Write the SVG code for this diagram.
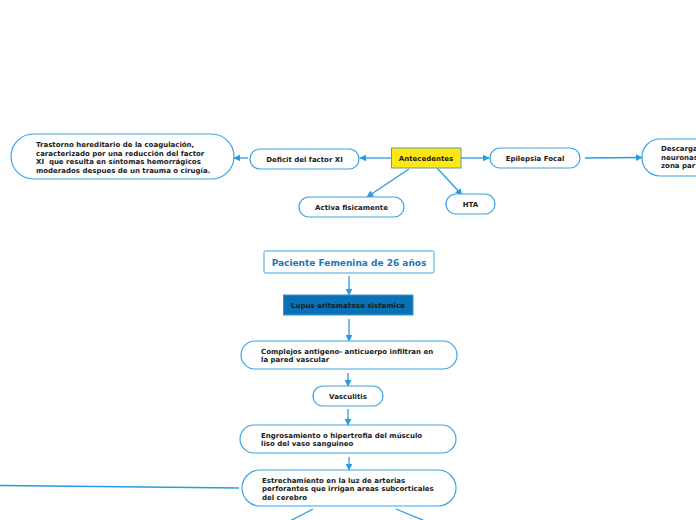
<svg xmlns="http://www.w3.org/2000/svg" width="696" height="520" viewBox="0 0 696 520">
<defs>
<style>
.n{fill:#fff;stroke:#3aa3e6;stroke-width:1.2}
.t{font-family:"DejaVu Sans",Verdana,sans-serif;font-weight:bold;font-size:7px;fill:#1a1a1a}
.c{text-anchor:middle}
.e{stroke:#2b9be0;stroke-width:1.3;fill:none;marker-end:url(#ah)}
.l{stroke:#2b9be0;stroke-width:1.3;fill:none}
</style>
<marker id="ah" viewBox="0 0 10 10" refX="9" refY="5" markerWidth="7" markerHeight="7" markerUnits="userSpaceOnUse" orient="auto">
<path d="M0,0 L10,5 L0,10 z" fill="#2b9be0"/>
</marker>
</defs>
<rect width="696" height="520" fill="#fff"/>
<g id="connectors">
<line class="e" x1="391" y1="158" x2="360" y2="158"/>
<line class="e" x1="248" y1="158" x2="234" y2="158"/>
<line class="e" x1="461" y1="158" x2="489" y2="158"/>
<line class="e" x1="585" y1="158" x2="642" y2="157.5"/>
<line class="e" x1="409" y1="169" x2="367" y2="197"/>
<line class="e" x1="437" y1="168" x2="462" y2="195"/>
<line class="e" x1="349" y1="276" x2="349" y2="295"/>
<line class="e" x1="349" y1="319" x2="349" y2="341"/>
<line class="e" x1="348" y1="373" x2="348" y2="386"/>
<line class="e" x1="348" y1="409" x2="348" y2="425"/>
<line class="e" x1="349" y1="457" x2="349" y2="470"/>
<line class="l" x1="0" y1="485.5" x2="239" y2="488"/>
<line class="l" x1="313" y1="509" x2="290" y2="521"/>
<line class="l" x1="396" y1="509" x2="425" y2="521"/>
</g>
<g id="antecedentes">
<rect x="391.5" y="148" width="69.5" height="20" fill="#ffe614" stroke="#5f9ea0" stroke-width="1"/>
<text class="t c" x="426" y="161">Antecedentes</text>
</g>
<g id="deficit">
<rect class="n" x="250" y="149" width="109" height="20" rx="10"/>
<text class="t c" x="304.5" y="162">Deficit del factor XI</text>
</g>
<g id="trastorno">
<rect class="n" x="11" y="134" width="223" height="45" rx="22.5"/>
<text class="t" x="36" y="147">Trastorno hereditario de la coagulación,</text>
<text class="t" x="36" y="155.5">caracterizado por una reducción del factor</text>
<text class="t" x="36" y="164">XI&#160; que resulta en síntomas hemorrágicos</text>
<text class="t" x="36" y="172.5">moderados despues de un trauma o cirugía.</text>
</g>
<g id="epilepsia">
<rect class="n" x="490" y="148" width="90" height="20" rx="10"/>
<text class="t c" x="535" y="161">Epilepsia Focal</text>
</g>
<g id="descarga">
<rect class="n" x="642" y="139" width="90" height="37" rx="18"/>
<text class="t" x="661" y="151">Descarga</text>
<text class="t" x="661" y="159.5">neuronas</text>
<text class="t" x="661" y="168">zona par</text>
</g>
<g id="activa">
<rect class="n" x="299" y="197" width="105" height="20" rx="10"/>
<text class="t c" x="351.5" y="210">Activa fisicamente</text>
</g>
<g id="hta">
<rect class="n" x="446" y="194" width="49" height="20" rx="10"/>
<text class="t c" x="470.5" y="207">HTA</text>
</g>
<g id="paciente">
<rect x="264" y="251" width="170" height="22" rx="1.5" fill="#fff" stroke="#3aa3e6" stroke-width="1"/>
<text class="c" x="349" y="265.5" style="font-family:'DejaVu Sans',Verdana,sans-serif;font-weight:bold;font-size:9px;fill:#1a78bd">Paciente Femenina de 26 años</text>
</g>
<g id="lupus">
<rect x="283.5" y="295" width="129.5" height="20" fill="#0a72b4" stroke="#3a95d0" stroke-width="1"/>
<text class="t c" x="348" y="308">Lupus eritematoso sistemico</text>
</g>
<g id="complejos">
<rect class="n" x="241" y="341" width="216" height="28" rx="14"/>
<text class="t" x="261" y="353.5">Complejos antigeno- anticuerpo infiltran en</text>
<text class="t" x="261" y="362">la pared vascular</text>
</g>
<g id="vasculitis">
<rect class="n" x="313" y="386" width="70" height="20" rx="10"/>
<text class="t c" x="348" y="399">Vasculitis</text>
</g>
<g id="engrosamiento">
<rect class="n" x="240" y="425" width="216" height="28" rx="14"/>
<text class="t" x="261" y="437.5">Engrosamiento o hipertrofia del músculo</text>
<text class="t" x="261" y="446">liso del vaso sanguineo</text>
</g>
<g id="estrechamiento">
<rect class="n" x="242" y="470" width="214" height="36" rx="18"/>
<text class="t" x="262" y="482.5">Estrechamiento en la luz de arterias</text>
<text class="t" x="262" y="491">perforantes que irrigan areas subcorticales</text>
<text class="t" x="262" y="499.5">del cerebro</text>
</g>
</svg>
